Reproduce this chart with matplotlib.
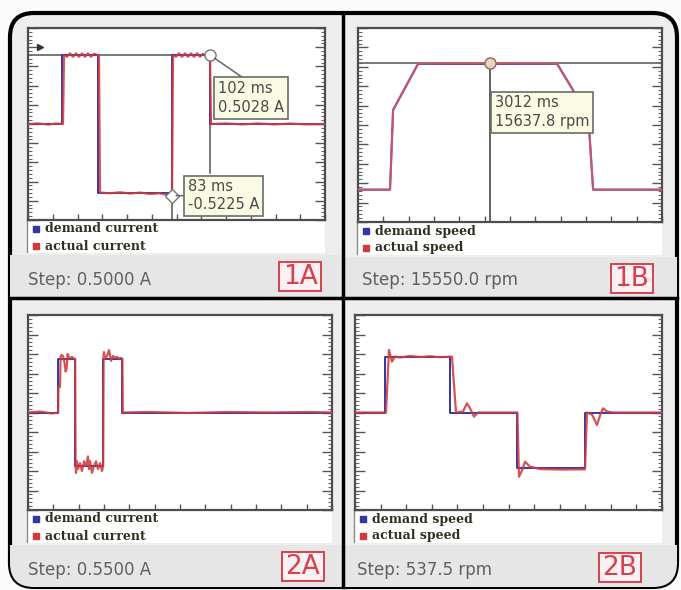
import numpy as np
import matplotlib.pyplot as plt
from matplotlib.patches import FancyBboxPatch, Rectangle

W, H = 681, 590

# 1A: current loop, time [ms] vs current [A]
demand_1a = [(11, 0), (28, 0), (28, 0.5), (46, 0.5), (46, -0.5), (83, -0.5),
             (83, 0.5), (102, 0.5), (102, 0), (159.5, 0)]
actual_1a = [(11, 0.0), (16, 0.004), (21, -0.004), (25, 0.003), (28.5, 0.0),
             (29, 0.5), (30.5, 0.49), (32, 0.515), (33.5, 0.49), (35, 0.515),
             (36.5, 0.49), (38, 0.515), (39.5, 0.49), (41, 0.515), (42.5, 0.49),
             (44, 0.512), (46.5, 0.5),
             (47, -0.5), (52, -0.505), (57, -0.498), (62, -0.507), (67, -0.5),
             (72, -0.51), (77, -0.505), (80, -0.515), (83, -0.5225),
             (83.5, 0.5), (85, 0.49), (86.5, 0.515), (88, 0.49), (89.5, 0.515),
             (91, 0.49), (92.5, 0.515), (94, 0.49), (95.5, 0.515), (97, 0.49),
             (98.5, 0.512), (100, 0.495), (102, 0.5028),
             (102.5, 0.0), (110, 0.004), (118, -0.003), (126, 0.004), (134, -0.003),
             (142, 0.003), (150, -0.003), (159.5, 0.0)]
cursors_1a = [(102, 0.5028), (83, -0.5225)]

# 1B: speed loop, time [ms] vs speed [rpm]
demand_1b = [(0, 0), (730, 0), (800, 9860), (1370, 15550), (4540, 15550),
             (4900, 12330), (5270, 7380), (5360, 0), (6930, 0)]
actual_1b = [(0, 0), (730, 0), (800, 9860), (1370, 15600), (2000, 15620),
             (3012, 15637.8), (3600, 15610), (4540, 15600), (4900, 12330),
             (5270, 7380), (5360, 0), (6930, 0)]
cursor_1b = (3012, 15637.8)

# 2A: current loop, second tuning
demand_2a = [(0, 0), (150, 0), (150, 0.55), (233, 0.55), (233, -0.55), (376, -0.55),
             (376, 0.55), (471, 0.55), (471, 0), (1520, 0)]
actual_2a = [(0, 0), (60, 0.01), (120, -0.01), (151, 0), (152, 0.26), (160, 0.26),
             (163, 0.57), (168, 0.59), (175, 0.58), (182, 0.52), (188, 0.42),
             (193, 0.45), (198, 0.6), (202, 0.58), (210, 0.55), (220, 0.57),
             (230, 0.55), (236, 0.55), (238, -0.55), (240, -0.62), (245, -0.5),
             (250, -0.58), (260, -0.52), (270, -0.6), (280, -0.5), (290, -0.55),
             (300, -0.45), (305, -0.58), (310, -0.5), (320, -0.62), (330, -0.55),
             (340, -0.5), (350, -0.58), (360, -0.52), (370, -0.6), (376, -0.55),
             (378, 0.6), (380, 0.62), (385, 0.55), (395, 0.58), (405, 0.64),
             (415, 0.53), (425, 0.58), (435, 0.56), (445, 0.57), (455, 0.55),
             (465, 0.56), (472, 0.55), (474, 0.0), (600, 0.005), (800, -0.005),
             (1000, 0.005), (1200, 0.0), (1400, 0.005), (1520, 0.0)]

# 2B: speed loop, second tuning
demand_2b = [(0, 0), (150, 0), (150, 537.5), (475, 537.5), (475, 0), (810, 0),
             (810, -537.5), (1150, -537.5), (1150, 0), (1535, 0)]
actual_2b = [(0, 0), (155, 0), (170, 603), (185, 490), (200, 540), (225, 530),
             (275, 545), (325, 535), (375, 542), (425, 533), (475, 538), (485, 538),
             (505, 0), (540, 10), (560, 89), (575, 40), (595, -40), (615, 0),
             (725, 0), (812, 0), (820, -619), (835, -560), (850, -474), (875, -522),
             (925, -545), (1025, -550), (1150, -548), (1160, 0), (1185, -20),
             (1210, -120), (1225, -30), (1240, 40), (1260, 10), (1290, 0), (1535, 0)]

names = ['1A', '1B', '2A', '2B']
steps = ['Step: 0.5000 A', 'Step: 15550.0 rpm', 'Step: 0.5500 A', 'Step: 537.5 rpm']
legends = [['demand current', 'actual current'], ['demand speed', 'actual speed'],
           ['demand current', 'actual current'], ['demand speed', 'actual speed']]
demands = [demand_1a, demand_1b, demand_2a, demand_2b]
actuals = [actual_1a, actual_1b, actual_2a, actual_2b]
xlims = [(11, 159.5), (0, 6930), (0, 1520), (0, 1535)]
ylims = [(-0.7, 0.7), (-4000, 20000), (-1.0, 1.0), (-940, 940)]

# screen layout in pixels: plot box, top of grey strip, step text, tag centre
boxes = [(28, 28, 325, 220), (358, 28, 662, 222), (28, 315, 332, 510), (355, 315, 662, 510)]
cells = [(10, 343), (343, 677), (10, 343), (343, 677)]
strip_top = [255, 257, 545, 545]
strip_bot = [298, 298, 587, 587]
step_pos = [(28, 280), (362, 280), (28, 570), (357, 570)]
tag_pos = [(300, 276.5), (631.5, 278), (302.5, 566), (619.5, 567)]

RED = '#d23a3a'
BLUE = '#3535a5'
GREY = '#555555'

fig = plt.figure(figsize=(W / 100, H / 100), dpi=100)
fig.patch.set_facecolor('#fbfbfb')
bg = fig.add_axes([0, 0, 1, 1])
bg.set_xlim(0, W)
bg.set_ylim(H, 0)
bg.axis('off')

frame = FancyBboxPatch((10, 13), 667, 574, boxstyle='round,pad=0,rounding_size=24',
                       fc='#eeeeee', ec='black', lw=3, zorder=1)
bg.add_patch(frame)

for k in range(4):
    x0, y0, x1, y1 = boxes[k]
    cl, cr = cells[k]
    strip = Rectangle((cl, strip_top[k]), cr - cl, strip_bot[k] - strip_top[k],
                      fc='#e6e6e6', ec='none', zorder=2)
    bg.add_patch(strip)
    strip.set_clip_path(frame)
    bg.add_patch(Rectangle((x0 - 1, y1), x1 - x0 + 1, strip_top[k] - y1 - 2,
                           fc='white', ec='none', zorder=2))
    bg.plot([x0 - 1, x0 - 1], [y1, strip_top[k] - 3], color='#8a8a8a', lw=1, zorder=3)
    # legend
    for j, (lab, col) in enumerate(zip(legends[k], [BLUE, RED])):
        ly = y1 + 9 + j * 17
        bg.plot(x0 + 8, ly, 's', ms=4.5, color=col, zorder=4)
        bg.text(x0 + 17, ly, lab, family='DejaVu Serif', weight='bold', fontsize=9,
                color='#2e2e22', va='center', ha='left', zorder=4)
    bg.text(step_pos[k][0], step_pos[k][1], steps[k], fontsize=12, color='#606060',
            va='center', ha='left', zorder=4)
    tx, ty = tag_pos[k]
    bg.add_patch(Rectangle((tx - 21, ty - 14.5), 42, 29, fc='#fdf0f2', ec='#d5424f',
                           lw=1.4, zorder=4))
    bg.text(tx, ty + 1, names[k], fontsize=19, color='#d5424f', ha='center',
            va='center', zorder=5)

# dividers between the four panels
bg.plot([343, 343], [13, 587], color='black', lw=2.5, zorder=6)
bg.plot([10, 677], [298, 298], color='black', lw=2.5, zorder=6)

axes = []
for k in range(4):
    x0, y0, x1, y1 = boxes[k]
    ax = fig.add_axes([x0 / W, 1 - y1 / H, (x1 - x0) / W, (y1 - y0) / H])
    ax.set_facecolor('white')
    ax.set_xlim(xlims[k])
    ax.set_ylim(ylims[k])
    ax.set_xticks(np.linspace(*xlims[k], 13))
    ax.set_yticks(np.linspace(*ylims[k], 11))
    ax.set_yticks(np.linspace(*ylims[k], 51), minor=True)
    ax.tick_params(axis='y', which='major', direction='in', left=True, right=True,
                   length=7, width=1, color=GREY)
    ax.tick_params(axis='y', which='minor', direction='in', left=True, right=True,
                   length=3, width=0.8, color='#666666')
    ax.tick_params(axis='x', which='major', direction='in', bottom=True, top=False,
                   length=4, width=1, color=GREY)
    ax.tick_params(labelleft=False, labelbottom=False)
    for s in ax.spines.values():
        s.set_color('#4d4d4d')
        s.set_linewidth(1.6)
    dt, dv = np.array(demands[k]).T
    at, av = np.array(actuals[k]).T
    ax.plot(dt, dv, color=BLUE, lw=1.4, zorder=2)
    ax.plot(at, av, color=RED if k != 1 else '#d65a66', lw=1.6, alpha=0.88, zorder=3)
    axes.append(ax)

box_style = dict(boxstyle='square,pad=0.25', fc='#fbfbe3', ec='#6a6a6a', lw=1.2)

# 1A cursors
ax = axes[0]
(t1, v1), (t2, v2) = cursors_1a
ax.plot([xlims[0][0], t1], [v1, v1], color=GREY, lw=1.1, zorder=1)
ax.plot([t1, t1], [v1, -0.36], color=GREY, lw=1.1, zorder=1)
ax.plot([t2, t2], [v2, ylims[0][0]], color=GREY, lw=1.1, zorder=1)
ax.plot(t1, v1, 'o', ms=8, mfc='white', mec='#777777', mew=1, zorder=5)
ax.plot(t2, v2, 'D', ms=7, mfc='white', mec='#777777', mew=1, zorder=5)
ax.plot(0.04, 0.9, '>', ms=4, color='#333333', transform=ax.transAxes, clip_on=False)
ax.annotate(f'{t1:g} ms\n{v1:.4f} A', xy=(t1, v1), xytext=(41, -26),
            textcoords='offset pixels', ha='center', va='top', ma='left',
            fontsize=10.5, color='#4a4a4a', linespacing=1.35, bbox=box_style, zorder=6,
            arrowprops=dict(arrowstyle='-', color='#666666', lw=1.1,
                            relpos=(0.45, 1), shrinkA=0, shrinkB=4))
ax.annotate(f'{t2:g} ms\n{v2:.4f} A', xy=(t2, v2), xytext=(16, 0),
            textcoords='offset pixels', ha='left', va='center', ma='left',
            fontsize=10.5, color='#4a4a4a', linespacing=1.2, bbox=box_style, zorder=6,
            arrowprops=dict(arrowstyle='-', color='#666666', lw=1.1,
                            relpos=(0, 0.5), shrinkA=0, shrinkB=3))

# 1B cursor
ax = axes[1]
tc, vc = cursor_1b
ax.axhline(vc, color=GREY, lw=1.1, zorder=1)
ax.plot([tc, tc], [vc, ylims[1][0]], color=GREY, lw=1.3, zorder=1)
ax.plot(tc, vc, 'o', ms=8, mfc='#ecd2c0', mec='#8a6a60', mew=1, zorder=5)
ax.annotate(f'{tc:g} ms\n{vc:.1f} rpm', xy=(tc, vc), xytext=(5, -32),
            textcoords='offset pixels', ha='left', va='top', ma='left',
            fontsize=10.5, color='#4a4a4a', linespacing=1.35, bbox=box_style, zorder=6)

fig.savefig('out.png', dpi=100, facecolor=fig.get_facecolor())
